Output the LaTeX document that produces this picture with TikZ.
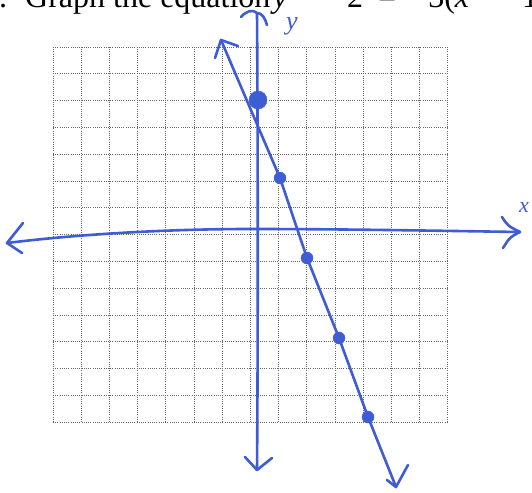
\documentclass[tikz,border=0pt]{standalone}
\usepackage{fontspec}
\setmainfont{Liberation Serif}
\definecolor{penblue}{RGB}{62,92,212}
\begin{document}
\begin{tikzpicture}[x=1pt,y=-1pt,
  gridline/.style={black!60, line width=0.8pt, dash pattern=on 0.8pt off 1.4pt},
  pen/.style={draw=penblue, line width=2.6pt, line cap=round, line join=round},
  dot/.style={circle, fill=penblue, draw=penblue, inner sep=0pt, minimum size=12pt},
  bigdot/.style={dot, minimum size=18pt},
  head/.style={font=\fontsize{32}{36}\selectfont, inner sep=0pt, anchor=base west, text=black},
  hand/.style={font=\fontsize{26}{30}\selectfont\itshape, text=penblue, inner sep=0pt}]
\useasboundingbox (0,0) rectangle (532,492);
\clip (0,0) rectangle (532,492);
\fill[white] (0,0) rectangle (532,492);

% title (cropped at the top, as in the reference)
\node[head] (t0) at (-1,8) {.};
\node[head] (t1) at (25,8) {Graph the equation};
\node[head] (t2) at (273,8) {\itshape y};
\node[head] (t3) at (310,8) {−};
\node[head] (t4) at (347,8) {2};
\node[head] (t5) at (378,8) {=};
\node[head] (t6) at (410,8) {−3(\itshape x};
\node[head] (t7) at (488,8) {−};
\node[head] (t8) at (522,8) {1};

% grid
\foreach \i in {0,...,14} {
  \draw[gridline] ({53+28.2*\i},47) -- ({53+28.2*\i},422.2);
  \draw[gridline] (53,{47+26.8*\i}) -- (448,{47+26.8*\i});
}

% x-axis
\coordinate (xl) at (7,243);
\coordinate (xm) at (250,229);
\coordinate (xr) at (520,232);
\coordinate (xl1) at (23,223);
\coordinate (xl2) at (22,253);
\coordinate (xr1) at (502,217);
\coordinate (xr2) at (503,248);
\draw[pen] (xl) .. controls (80,234) and (170,229) .. (xm) .. controls (350,229) and (450,231) .. (xr);
\draw[pen] (xl1) -- (xl) -- (xl2);
\draw[pen] (xr1) .. controls (508,226) .. (xr) .. controls (510,237) .. (xr2);

% y-axis
\coordinate (yt) at (257,13);
\coordinate (yb) at (257,470);
\coordinate (yt1) at (241,17);
\coordinate (yt2) at (267,25);
\coordinate (yb1) at (245,457);
\coordinate (yb2) at (272,458);
\draw[pen] (yt) .. controls (258,150) and (258,350) .. (yb);
\draw[pen] (yt1) .. controls (246,11) and (253,9) .. (yt) .. controls (262,13) and (265,18) .. (yt2);
\draw[pen] (yb1) -- (yb) -- (yb2);

% labels
\node[hand] (ylab) at (292,26) {y};
\node[hand, font=\fontsize{22}{26}\selectfont\itshape] (xlab) at (524,207) {x};

% graphed line
\coordinate (la) at (221,40);
\coordinate (lb) at (396,487);
\coordinate (la1) at (238,46);
\coordinate (la2) at (215,58);
\coordinate (lb1) at (387,480);
\coordinate (lb2) at (408,465);
\node[bigdot] (d0) at (258,100) {};
\node[dot] (d1) at (280,178) {};
\node[dot] (d2) at (307,258) {};
\node[dot] (d3) at (339,338) {};
\node[dot] (d4) at (368,417) {};
\draw[pen] (la) -- (d1.center) -- (d2.center) -- (d3.center) -- (d4.center) -- (lb);
\draw[pen] (la1) -- (la) -- (la2);
\draw[pen] (lb1) -- (lb) -- (lb2);
\end{tikzpicture}
\end{document}
